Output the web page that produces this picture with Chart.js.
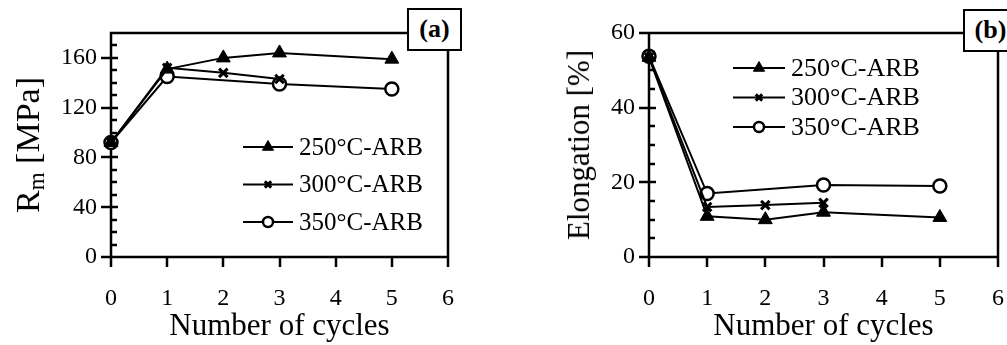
<!DOCTYPE html>
<html>
<head>
<meta charset="utf-8">
<script src="https://cdn.jsdelivr.net/npm/chart.js@4"></script>
<style>
  body { margin: 0; background: #fff; width: 1007px; height: 345px; overflow: hidden; position: relative; font-family: "Liberation Serif", "Times New Roman", serif; }
  canvas { position: absolute; top: 0; left: 0; }
  .ytitle { position: absolute; white-space: nowrap; font-size: 31px; color: #000; transform: translate(-50%, -50%) rotate(-90deg); }
  .ytitle sub { font-size: 23px; vertical-align: -5px; line-height: 0; }
  .tag { position: absolute; box-sizing: border-box; border: 2px solid #000; background: #fff; font-weight: bold; font-size: 26px; line-height: 38px; text-align: center; height: 43px; width: 55px; }
</style>
</head>
<body>
<div style="position:absolute;left:0;top:0;width:470px;height:345px"><canvas id="chartA" width="470" height="345"></canvas></div>
<div style="position:absolute;left:520px;top:0;width:487px;height:345px"><canvas id="chartB" width="487" height="345"></canvas></div>
<div class="ytitle" style="left:28px;top:145px;font-size:34px">R<sub>m</sub> [MPa]</div>
<div class="ytitle" style="left:579px;top:145px">Elongation [%]</div>
<div class="tag" style="left:407px;top:8px">(a)</div>
<div class="tag" style="left:963px;top:9px">(b)</div>
<script>
// Number of ARB cycles measured for each temperature
const cycles250 = [0, 1, 2, 3, 5];
const cycles300 = [0, 1, 2, 3];
const cycles350 = [0, 1, 3, 5];

// (a) tensile strength Rm [MPa]
const rm250 = [92, 151, 160, 164, 159];
const rm300 = [92, 152, 148, 143];
const rm350 = [92, 145, 139, 135];

// (b) elongation [%]
const el250 = [53.5, 10.9, 10.0, 12.0, 10.6];
const el300 = [53.5, 13.4, 13.9, 14.5];
const el350 = [53.8, 17.0, 19.3, 19.0];

const seriesNames = ['250°C-ARB', '300°C-ARB', '350°C-ARB'];
const xTicks = [0, 1, 2, 3, 4, 5, 6];
const yTicksA = [0, 40, 80, 120, 160];
const yTicksB = [0, 20, 40, 60];

const serif = '"Liberation Serif", "Times New Roman", serif';

const markers = [
  { pointStyle: 'triangle', pointRadius: 8, pointBackgroundColor: '#000', pointBorderWidth: 1 },
  { pointStyle: 'crossRot', pointRadius: 6, pointBackgroundColor: '#000', pointBorderWidth: 3 },
  { pointStyle: 'circle', pointRadius: 6.5, pointBackgroundColor: '#fff', pointBorderWidth: 2.5 }
];

function toPoints(xs, ys) {
  return xs.map((x, i) => ({ x: x, y: ys[i] }));
}

function makeDatasets(valueSets) {
  const xs = [cycles250, cycles300, cycles350];
  return valueSets.map((vals, i) => Object.assign({
    label: seriesNames[i],
    data: toPoints(xs[i], vals),
    showLine: true,
    borderColor: '#000',
    borderWidth: 2,
    pointBorderColor: '#000',
    clip: false
  }, markers[i]));
}

// frame, crossing major ticks, inner minor ticks and an in-plot legend
const framePlugin = {
  id: 'frame',
  beforeDatasetsDraw(chart, args, opts) {
    const { ctx, chartArea: a, scales: { x, y } } = chart;
    ctx.save();
    ctx.strokeStyle = '#000';
    ctx.lineWidth = 2.5;
    ctx.beginPath();
    ctx.rect(a.left, a.top, a.right - a.left, a.bottom - a.top);
    for (let v = y.min; v <= y.max + 1e-6; v += opts.minor) {
      const py = Math.round(y.getPixelForValue(v));
      ctx.moveTo(a.left, py); ctx.lineTo(a.left + 6, py);
    }
    y.ticks.forEach(t => {
      const py = Math.round(y.getPixelForValue(t.value));
      ctx.moveTo(a.left - 10, py); ctx.lineTo(a.left + 7, py);
    });
    x.ticks.forEach(t => {
      const px = Math.round(x.getPixelForValue(t.value));
      ctx.moveTo(px, a.bottom); ctx.lineTo(px, a.bottom + 10);
    });
    ctx.stroke();
    ctx.restore();
  },
  afterDraw(chart, args, opts) {
    const { ctx, chartArea: a } = chart;
    const lg = opts.legend;
    ctx.save();
    chart.data.datasets.forEach((ds, i) => {
      const cy = a.top + lg.top + i * lg.gap;
      const x0 = a.left + lg.left;
      ctx.strokeStyle = '#000';
      ctx.lineWidth = 2;
      ctx.beginPath();
      ctx.moveTo(x0, cy); ctx.lineTo(x0 + lg.len, cy);
      ctx.stroke();
      ctx.fillStyle = ds.pointBackgroundColor;
      ctx.strokeStyle = '#000';
      ctx.lineWidth = ds.pointBorderWidth;
      Chart.helpers.drawPoint(ctx, { pointStyle: ds.pointStyle, radius: ds.pointRadius - 1.5, borderWidth: ds.pointBorderWidth }, x0 + lg.len / 2, cy);
      ctx.fillStyle = '#000';
      ctx.font = lg.size + 'px ' + serif;
      ctx.textBaseline = 'middle';
      ctx.fillText(ds.label, x0 + lg.len + 6, cy + 1);
    });
    ctx.restore();
  }
};

function makeChart(id, valueSets, yMax, yTicks, minor, yWidth, pad, legend) {
  return new Chart(document.getElementById(id), {
    type: 'scatter',
    data: { datasets: makeDatasets(valueSets) },
    options: {
      responsive: false,
      animation: false,
      layout: { padding: pad },
      plugins: {
        legend: { display: false },
        tooltip: { enabled: false },
        frame: { minor: minor, legend: legend }
      },
      scales: {
        x: {
          type: 'linear',
          min: 0, max: 6,
          afterBuildTicks: s => { s.ticks = xTicks.map(v => ({ value: v })); },
          afterFit: s => { s.height = 88; s.paddingLeft = 0; s.paddingRight = 0; },
          grid: { display: false, drawTicks: false },
          border: { display: false },
          ticks: { color: '#000', padding: 27, font: { family: serif, size: 24 } },
          title: { display: true, text: 'Number of cycles', color: '#000', padding: { top: 0, bottom: 0 }, font: { family: serif, size: 31 } }
        },
        y: {
          type: 'linear',
          min: 0, max: yMax,
          afterBuildTicks: s => { s.ticks = yTicks.map(v => ({ value: v })); },
          afterFit: s => { s.width = yWidth; },
          grid: { display: false, drawTicks: false },
          border: { display: false },
          ticks: { color: '#000', padding: 14, font: { family: serif, size: 24 } }
        }
      }
    },
    plugins: [framePlugin]
  });
}

makeChart('chartA', [rm250, rm300, rm350], 180, yTicksA, 10, 111,
  { top: 33, right: 22, left: 0, bottom: 0 },
  { left: 132, top: 114, gap: 37.5, len: 50, size: 25 });

makeChart('chartB', [el250, el300, el350], 60, yTicksB, 5, 129,
  { top: 33, right: 6, left: 0, bottom: 0 },
  { left: 84, top: 35, gap: 29.5, len: 52, size: 26 });
</script>
</body>
</html>
